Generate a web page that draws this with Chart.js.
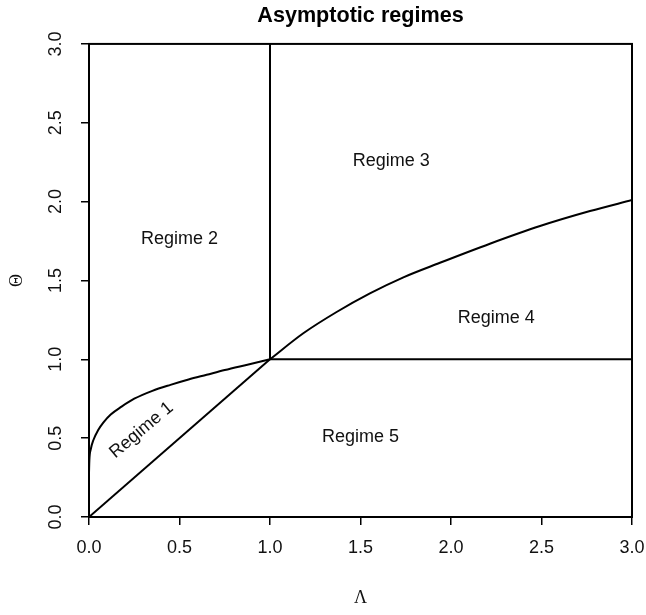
<!DOCTYPE html>
<html lang="en">
<head>
  <meta charset="UTF-8">
  <title>Asymptotic regimes</title>
  <script src="https://cdn.jsdelivr.net/npm/chart.js"></script>
  <style>
    html, body { margin: 0; padding: 0; background: #fff; }
    #wrap { width: 646px; height: 615px; }
  </style>
</head>
<body>
<div id="wrap"><canvas id="regimes" width="646" height="615"></canvas></div>
<script>
// boundary curve, left branch (Lambda <= 1)
const leftLambda = [0, 0.002, 0.01, 0.025, 0.05, 0.08, 0.12, 0.18, 0.25, 0.35, 0.45, 0.55, 0.65, 0.75, 0.875, 1.0];
const leftTheta  = [0.28, 0.36, 0.43, 0.49, 0.55, 0.60, 0.65, 0.70, 0.75, 0.80, 0.838, 0.872, 0.902, 0.932, 0.966, 1.0];

// boundary curve, right branch (Lambda >= 1)
const rightLambda = [1.0, 1.184, 1.368, 1.552, 1.737, 1.939, 2.215, 2.492, 2.768, 3.0];
const rightTheta  = [1.0, 1.165, 1.300, 1.418, 1.520, 1.612, 1.733, 1.845, 1.940, 2.01];

// straight boundaries
const diagLambda = [0, 1];
const diagTheta  = [0, 1];
const vertLambda = [1, 1];
const vertTheta  = [1, 3];
const horizLambda = [1, 3];
const horizTheta  = [1, 1];

// axis ticks
const tickValues = [0, 0.5, 1.0, 1.5, 2.0, 2.5, 3.0];

// region names and where they sit (data units), with text angle
const regimeNames  = ['Regime 1', 'Regime 2', 'Regime 3', 'Regime 4', 'Regime 5'];
const regimeLambda = [0.29, 0.50, 1.67, 2.25, 1.50];
const regimeTheta  = [0.55, 1.76, 2.26, 1.26, 0.51];
const regimeAngle  = [-40, 0, 0, 0, 0];

const toPoints = (xs, ys) => xs.map((x, i) => ({ x: x, y: ys[i] }));

const lineSet = (xs, ys, smooth) => ({
  data: toPoints(xs, ys),
  showLine: true,
  borderColor: '#000',
  borderWidth: 2,
  pointRadius: 0,
  cubicInterpolationMode: smooth ? 'monotone' : 'default',
  tension: 0
});

// frame around the plotting region plus the regime labels
const framePlugin = {
  id: 'frame',
  afterDatasetsDraw(chart) {
    const { ctx, chartArea: a, scales } = chart;
    ctx.save();
    ctx.strokeStyle = '#000';
    ctx.lineWidth = 2;
    ctx.strokeRect(a.left, a.top, a.right - a.left, a.bottom - a.top);

    ctx.fillStyle = '#111';
    ctx.font = '18px "Liberation Sans", Arial, sans-serif';
    ctx.textAlign = 'center';
    ctx.textBaseline = 'middle';
    regimeNames.forEach((name, i) => {
      const px = scales.x.getPixelForValue(regimeLambda[i]);
      const py = scales.y.getPixelForValue(regimeTheta[i]);
      ctx.save();
      ctx.translate(px, py);
      ctx.rotate(regimeAngle[i] * Math.PI / 180);
      ctx.fillText(name, 0, 0);
      ctx.restore();
    });
    ctx.restore();
  }
};

const tickFont = { family: '"Liberation Sans", Arial, sans-serif', size: 18 };
const symFont = { family: '"Liberation Serif", "DejaVu Serif", serif', size: 18 };

new Chart(document.getElementById('regimes'), {
  type: 'scatter',
  data: {
    datasets: [
      lineSet(leftLambda, leftTheta, true),
      lineSet(rightLambda, rightTheta, true),
      lineSet(diagLambda, diagTheta, false),
      lineSet(vertLambda, vertTheta, false),
      lineSet(horizLambda, horizTheta, false)
    ]
  },
  options: {
    responsive: false,
    animation: false,
    layout: { padding: { left: 0, right: 14, top: 0, bottom: 0 } },
    plugins: {
      legend: { display: false },
      tooltip: { enabled: false },
      title: {
        display: true,
        text: 'Asymptotic regimes',
        fullSize: false,
        color: '#000',
        font: { family: '"Liberation Sans", Arial, sans-serif', size: 21.6, weight: 'bold' },
        padding: { top: 3, bottom: 15 }
      }
    },
    scales: {
      x: {
        type: 'linear',
        min: 0,
        max: 3,
        afterBuildTicks: s => { s.ticks = tickValues.map(v => ({ value: v })); },
        afterFit: s => { s.height = 98; s.paddingLeft = 0; s.paddingRight = 0; },
        border: { display: false },
        grid: { drawOnChartArea: false, drawTicks: true, tickLength: 8, color: '#000', lineWidth: 1.5 },
        ticks: { color: '#111', font: tickFont, padding: 12, maxRotation: 0, callback: v => v.toFixed(1) },
        title: { display: true, text: 'Λ', color: '#111', font: symFont, padding: { top: 0, bottom: 6 } }
      },
      y: {
        type: 'linear',
        min: 0,
        max: 3,
        afterBuildTicks: s => { s.ticks = tickValues.map(v => ({ value: v })); },
        afterFit: s => { s.width = 89; s.paddingTop = 0; s.paddingBottom = 0; },
        border: { display: false },
        grid: { drawOnChartArea: false, drawTicks: true, tickLength: 8, color: '#000', lineWidth: 1.5 },
        ticks: { color: '#111', font: tickFont, padding: 12, minRotation: 90, maxRotation: 90,
                 crossAlign: 'center', callback: v => v.toFixed(1) },
        title: { display: true, text: 'Θ', color: '#111', font: symFont, padding: { top: 6, bottom: 0 } }
      }
    }
  },
  plugins: [framePlugin]
});
</script>
</body>
</html>
